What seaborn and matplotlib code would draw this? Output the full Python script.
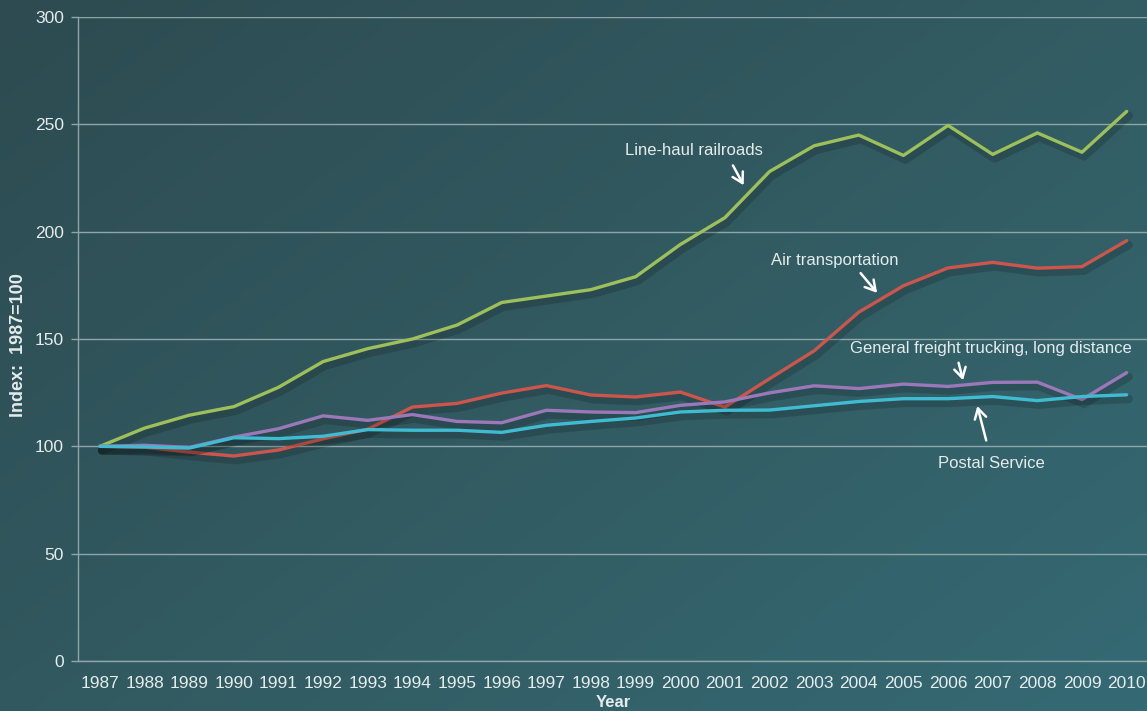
import numpy as np
import pandas as pd
import matplotlib
matplotlib.use("Agg")
import matplotlib.pyplot as plt
import matplotlib.patheffects as pe
from matplotlib.colors import LinearSegmentedColormap
import seaborn as sns

years = list(range(1987, 2011))
railroads = [100, 108.5, 114.5, 118.5, 127.5, 139.5, 145.5, 150, 156.5, 167, 170, 173,
             179, 194, 206.5, 228, 240, 245, 235.5, 249.5, 236, 246, 237, 256]
air = [100, 99.6, 97.3, 95.5, 98.3, 103.5, 108, 118.3, 120, 124.8, 128.3, 123.9,
       123, 125.3, 118.3, 131.5, 144.5, 162.5, 174.8, 183.1, 185.7, 183, 183.7, 195.8]
trucking = [100, 100.5, 99.5, 104.3, 108.2, 114.2, 112.1, 114.8, 111.6, 111, 116.8, 116,
            115.7, 119.1, 120.7, 124.9, 128.2, 126.9, 129, 127.9, 129.8, 129.9, 121.8, 134.3]
postal = [100, 99.7, 99.2, 104, 103.6, 104.7, 107.8, 107.5, 107.5, 106.5, 109.8, 111.6,
          113.2, 116, 116.8, 116.9, 118.9, 120.9, 122.2, 122.2, 123.2, 121.3, 123.2, 124]

series_names = ["Line-haul railroads", "Air transportation",
                "General freight trucking, long distance", "Postal Service"]
series_colors = ["#9dc05a", "#cc564c", "#9b78b8", "#40bcd2"]

df = pd.DataFrame({
    "Year": years * 4,
    "Index": railroads + air + trucking + postal,
    "Series": sum([[n] * len(years) for n in series_names], []),
})

sns.set_theme(style="white")
plt.rcParams["font.family"] = ["Liberation Sans", "DejaVu Sans"]
text_col = "#e4ecec"
grid_col = "#8fa6a9"

fig = plt.figure(figsize=(11.47, 7.11), dpi=100)

# diagonal teal gradient behind everything
bg = fig.add_axes([0, 0, 1, 1], zorder=-10)
gx, gy = np.meshgrid(np.linspace(0, 1, 300), np.linspace(0, 1, 200))
grad = 0.55 * gx + 0.45 * gy
cmap = LinearSegmentedColormap.from_list("teal", ["#2d4b51", "#325a61", "#356a74"])
bg.imshow(grad, cmap=cmap, aspect="auto", extent=[0, 1, 0, 1], origin="upper")
bg.set_axis_off()

ax = fig.add_axes([0.0677, 0.0703, 0.934, 0.9058])
ax.set_facecolor("none")

sns.lineplot(data=df, x="Year", y="Index", hue="Series", hue_order=series_names,
             palette=series_colors, linewidth=2.4, ax=ax, legend=False)
for line in ax.get_lines():
    line.set_path_effects([pe.SimpleLineShadow(offset=(1.5, -3), shadow_color="black",
                                               alpha=0.16, linewidth=6),
                           pe.Normal()])

ax.set_xlim(1986.5, 2010.5)
ax.set_ylim(0, 300)
ax.set_yticks(range(0, 301, 50))
ax.set_xticks(years)
ax.set_xticks(np.arange(1987.5, 2010, 1), minor=True)
ax.set_xticklabels([str(y) for y in years])
ax.tick_params(axis="x", which="major", length=0, pad=11, labelsize=12.5, labelcolor=text_col)
ax.tick_params(axis="x", which="minor", length=5, width=1, color=grid_col, direction="out")
ax.tick_params(axis="y", which="major", length=5, width=1, color=grid_col, pad=5,
               labelsize=12.5, labelcolor=text_col, left=True)
ax.grid(axis="y", color=grid_col, linewidth=1)
ax.grid(axis="x", visible=False)
ax.set_axisbelow(True)
for side in ["top", "right"]:
    ax.spines[side].set_visible(False)
for side in ["left", "bottom"]:
    ax.spines[side].set_color(grid_col)
    ax.spines[side].set_linewidth(1)

ax.set_xlabel("Year", color=text_col, fontsize=12, fontweight="bold", labelpad=3)
ax.set_ylabel("")
fig.text(19 / 1147, 1 - 345 / 711, "Index:  1987=100", rotation=90, ha="center", va="center",
         color=text_col, fontsize=13, fontweight="bold",
         family=["Liberation Sans Narrow", "Liberation Sans"])

arrow = dict(arrowstyle="->,head_length=0.6,head_width=0.35", color="white", lw=1.8)
txt_kw = dict(color=text_col, fontsize=12, ha="center", va="center")

ax.text(2000.3, 238, "Line-haul railroads", **txt_kw)
ax.annotate("", xy=(2001.45, 220.5), xytext=(2001.15, 232), arrowprops=arrow)
ax.text(2003.46, 186.8, "Air transportation", **txt_kw)
ax.annotate("", xy=(2004.45, 170.5), xytext=(2004.0, 181.7), arrowprops=arrow)
ax.text(2006.95, 145.8, "General freight trucking, long distance", **txt_kw)
ax.annotate("", xy=(2006.35, 129.5), xytext=(2006.22, 140.2), arrowprops=arrow)
ax.text(2006.98, 92.2, "Postal Service", **txt_kw)
ax.annotate("", xy=(2006.64, 120), xytext=(2006.87, 101.5), arrowprops=arrow)

fig.savefig("out.png", dpi=100)
